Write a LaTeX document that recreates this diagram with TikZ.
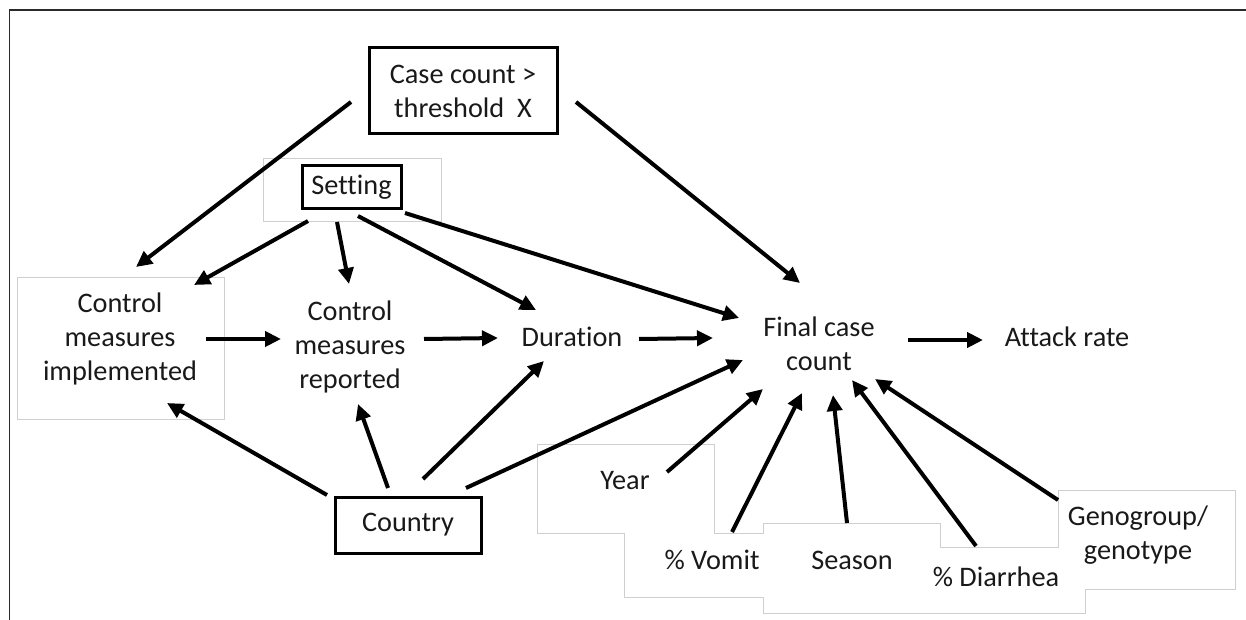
\documentclass[tikz,border=0pt]{standalone}
\usepackage{fontspec}
\setmainfont{Carlito}[Ligatures=NoCommon]
\usetikzlibrary{arrows.meta}
\definecolor{panelgray}{HTML}{CFCFCF}
\definecolor{framegray}{HTML}{2A2A2A}
\tikzset{
  lbl/.style={font=\fontsize{28.3}{34}\selectfont, align=center, inner sep=0pt, text=black!90},
  heavybox/.style={lbl, draw=black, line width=3pt},
  panel/.style={draw=panelgray, line width=1pt},
  arr/.style={line width=4pt, -{Triangle[length=16pt,width=15pt]}},
}
\begin{document}
\begin{tikzpicture}[x=1pt,y=-1pt]
\useasboundingbox (0,0) rectangle (1246,620);

% outer frame (top and left edges)
\draw[framegray, line width=1.8pt] (9.5,620) -- (9.5,10) -- (1246,10);

% light text-box outlines
\draw[panel] (263,159) rectangle (441,222);
\draw[panel] (17,277) rectangle (224,419);
\draw[panel] (537,444) -- (714,444) -- (714,533) -- (763,533) -- (763,523)
  -- (940,523) -- (940,547) -- (1058,547) -- (1058,490) -- (1235,490)
  -- (1235,589) -- (1085,589) -- (1085,613) -- (763,613) -- (763,597)
  -- (624,597) -- (624,533) -- (537,533) -- cycle;

% variables
\node[heavybox, minimum width=188pt, minimum height=86pt] (case) at (463,91)
  {Case count >\\threshold\ \ X};
\node[heavybox, minimum width=99pt, minimum height=43pt] (setting) at (351.5,187.5) {Setting};
\node[lbl] (cmi) at (120,339) {Control\\measures\\implemented};
\node[lbl] (cmr) at (350,347) {Control\\measures\\reported};
\node[lbl] (dur) at (572,337) {Duration};
\node[lbl] (fin) at (819,343.5) {Final case\\count};
\node[lbl] (atk) at (1067,337) {Attack rate};
\node[heavybox, minimum width=146pt, minimum height=56pt] (country) at (408,525) {Country};
\node[lbl] (year) at (625,481) {Year};
\node[lbl] (vomit) at (712,560) {\% Vomit};
\node[lbl] (season) at (852,560) {Season};
\node[lbl] (diar) at (996,577) {\% Diarrhea};
\node[lbl] (geno) at (1138,535) {Genogroup/\\genotype};

% causal links
\draw[arr] ([shift={(-112,11)}]case.center) -- ([shift={(16,-72)}]cmi.center);
\draw[arr] ([shift={(113,11)}]case.center) -- ([shift={(-19,-60.5)}]fin.center);
\draw[arr] ([shift={(-43.5,33.5)}]setting.center) -- ([shift={(74,-54)}]cmi.center);
\draw[arr] ([shift={(-14.5,34.5)}]setting.center) -- ([shift={(-1,-63)}]cmr.center);
\draw[arr] ([shift={(6.5,28.5)}]setting.center) -- ([shift={(-36,-27)}]dur.center);
\draw[arr] ([shift={(53.5,25.5)}]setting.center) -- ([shift={(-80,-25.5)}]fin.center);
\draw[arr] ([shift={(86,0)}]cmi.center) -- ([shift={(-69,-8)}]cmr.center);
\draw[arr] ([shift={(74,-8)}]cmr.center) -- ([shift={(-74,1)}]dur.center);
\draw[arr] ([shift={(67,2)}]dur.center) -- ([shift={(-106,-5.5)}]fin.center);
\draw[arr] ([shift={(89,-3.5)}]fin.center) -- ([shift={(-84,3)}]atk.center);
\draw[arr] ([shift={(-81,-30)}]country.center) -- ([shift={(47,64)}]cmi.center);
\draw[arr] ([shift={(-20,-37)}]country.center) -- ([shift={(8,57)}]cmr.center);
\draw[arr] ([shift={(15,-46)}]country.center) -- ([shift={(-28,24)}]dur.center);
\draw[arr] ([shift={(58,-37)}]country.center) -- ([shift={(-76,16.5)}]fin.center);
\draw[arr] ([shift={(42,-9)}]year.center) -- ([shift={(-56,45.5)}]fin.center);
\draw[arr] ([shift={(20,-28)}]vomit.center) -- ([shift={(-17,49.5)}]fin.center);
\draw[arr] ([shift={(-5,-37)}]season.center) -- ([shift={(14,51.5)}]fin.center);
\draw[arr] ([shift={(-20,-31)}]diar.center) -- ([shift={(33,36.5)}]fin.center);
\draw[arr] ([shift={(-80,-35)}]geno.center) -- ([shift={(56,35.5)}]fin.center);
\end{tikzpicture}
\end{document}
